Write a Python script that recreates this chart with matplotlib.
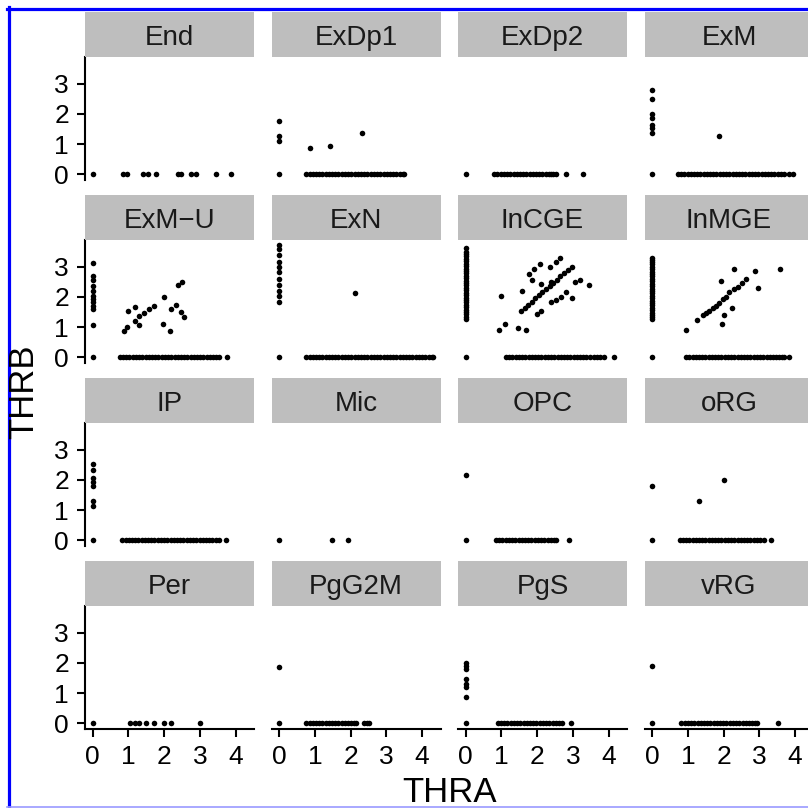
import matplotlib
matplotlib.use("Agg")
import matplotlib.pyplot as plt
from matplotlib.lines import Line2D

plt.rcParams['font.family'] = ['Liberation Sans', 'DejaVu Sans']

panels = ["End", "ExDp1", "ExDp2", "ExM",
          "ExM\u2212U", "ExN", "InCGE", "InMGE",
          "IP", "Mic", "OPC", "oRG",
          "Per", "PgG2M", "PgS", "vRG"]

# cells with THRB == 0 (THRA values)
thra_only = {
    "End": [0, 0.85, 0.96, 1.41, 1.55, 1.78, 2.38, 2.48, 2.75, 2.89, 3.44, 3.88],
    "ExDp1": [0, 0.76, 0.85, 0.94, 1.03, 1.12, 1.21, 1.3, 1.39, 1.48, 1.57, 1.66, 1.75, 1.84,
              1.93, 2.02, 2.11, 2.2, 2.29, 2.38, 2.47, 2.56, 2.65, 2.74, 2.83, 2.92, 3.01,
              3.1, 3.19, 3.28, 3.37, 3.46, 3.5],
    "ExDp2": [0, 0.8, 0.89, 0.98, 1.07, 1.16, 1.25, 1.34, 1.43, 1.52, 1.61, 1.7, 1.79, 1.88,
              1.97, 2.06, 2.15, 2.24, 2.33, 2.38, 2.45, 2.52, 2.8, 3.29],
    "ExM": [0, 0.72, 0.81, 0.9, 0.99, 1.08, 1.17, 1.26, 1.35, 1.44, 1.53, 1.62, 1.71, 1.8,
            1.89, 1.98, 2.07, 2.16, 2.25, 2.34, 2.43, 2.52, 2.61, 2.7, 2.79, 2.88, 2.97,
            3.06, 3.15, 3.24, 3.33, 3.42, 3.51, 3.6, 3.69, 3.82, 3.95],
    "ExM\u2212U": [0, 0.76, 0.85, 0.94, 1.03, 1.12, 1.21, 1.3, 1.39, 1.48, 1.57, 1.66, 1.75,
                   1.84, 1.93, 2.02, 2.11, 2.2, 2.29, 2.38, 2.47, 2.56, 2.65, 2.74, 2.83,
                   2.92, 3.01, 3.1, 3.19, 3.28, 3.37, 3.46, 3.54, 3.75],
    "ExN": [0, 0.76, 0.85, 0.94, 1.03, 1.12, 1.21, 1.3, 1.39, 1.48, 1.57, 1.66, 1.75, 1.84,
            1.93, 2.02, 2.11, 2.2, 2.29, 2.38, 2.47, 2.56, 2.65, 2.74, 2.83, 2.92, 3.01,
            3.1, 3.19, 3.28, 3.37, 3.46, 3.55, 3.64, 3.73, 3.82, 3.91, 4.0, 4.09, 4.18,
            4.27, 4.3],
    "InCGE": [0, 1.13, 1.22, 1.31, 1.4, 1.49, 1.58, 1.67, 1.76, 1.85, 1.94, 2.03, 2.12, 2.21,
              2.3, 2.39, 2.48, 2.57, 2.66, 2.75, 2.84, 2.93, 3.02, 3.11, 3.2, 3.29, 3.38,
              3.47, 3.58, 3.68, 3.77, 3.86, 4.14],
    "InMGE": [0, 0.95, 1.04, 1.13, 1.22, 1.31, 1.4, 1.49, 1.58, 1.67, 1.76, 1.85, 1.94, 2.03,
              2.12, 2.21, 2.3, 2.39, 2.48, 2.57, 2.66, 2.75, 2.84, 2.93, 3.02, 3.11, 3.2,
              3.29, 3.38, 3.47, 3.56, 3.64, 3.69, 3.82],
    "IP": [0, 0.83, 0.92, 1.01, 1.1, 1.19, 1.28, 1.37, 1.46, 1.55, 1.64, 1.73, 1.82, 1.91,
           2.0, 2.09, 2.18, 2.27, 2.36, 2.45, 2.54, 2.63, 2.72, 2.81, 2.9, 2.99, 3.08,
           3.17, 3.26, 3.35, 3.44, 3.54, 3.72],
    "Mic": [0, 1.47, 1.92],
    "OPC": [0, 0.85, 0.94, 1.03, 1.12, 1.21, 1.3, 1.39, 1.48, 1.57, 1.66, 1.75, 1.84, 1.93,
            2.02, 2.11, 2.2, 2.29, 2.38, 2.46, 2.52, 2.89],
    "oRG": [0, 0.77, 0.86, 0.95, 1.04, 1.13, 1.22, 1.31, 1.4, 1.49, 1.58, 1.67, 1.76, 1.85,
            1.94, 2.03, 2.12, 2.21, 2.3, 2.39, 2.48, 2.57, 2.66, 2.75, 2.84, 2.93, 3.02,
            3.13, 3.32],
    "Per": [0, 1.04, 1.18, 1.31, 1.5, 1.73, 1.99, 2.19, 3.01],
    "PgG2M": [0, 0.76, 0.85, 0.94, 1.03, 1.12, 1.21, 1.3, 1.39, 1.48, 1.57, 1.66, 1.75,
              1.84, 1.93, 2.02, 2.1, 2.15, 2.38, 2.45, 2.52],
    "PgS": [0, 0.9, 0.99, 1.08, 1.17, 1.26, 1.35, 1.44, 1.53, 1.62, 1.71, 1.8, 1.89, 1.98,
            2.07, 2.16, 2.25, 2.34, 2.43, 2.52, 2.61, 2.7, 2.94],
    "vRG": [0, 0.82, 0.91, 1.0, 1.09, 1.18, 1.27, 1.36, 1.45, 1.54, 1.63, 1.72, 1.81, 1.9,
            1.99, 2.08, 2.17, 2.26, 2.35, 2.44, 2.53, 2.62, 2.71, 2.8, 2.89, 2.94, 3.52],
}

# cells with THRA == 0 and THRB > 0 (THRB values)
thrb_only = {
    "ExDp1": [1.76, 1.26, 1.09],
    "ExM": [2.79, 2.51, 1.99, 1.85, 1.65, 1.54, 1.37],
    "ExM\u2212U": [3.13, 2.68, 2.55, 2.35, 2.21, 2.04, 1.93, 1.82, 1.71, 1.6, 1.06],
    "ExN": [3.73, 3.58, 3.39, 3.16, 3.0, 2.83, 2.61, 2.38, 2.21, 2.04, 1.84],
    "InCGE": [1.26, 1.34, 1.42, 1.5, 1.58, 1.66, 1.74, 1.82, 1.9, 1.98, 2.06, 2.14, 2.22,
              2.3, 2.38, 2.46, 2.54, 2.62, 2.7, 2.78, 2.86, 2.94, 3.02, 3.1, 3.18, 3.26,
              3.34, 3.42, 3.5, 3.62],
    "InMGE": [1.26, 1.33, 1.4, 1.48, 1.56, 1.64, 1.72, 1.8, 1.88, 1.96, 2.04, 2.12, 2.2,
              2.28, 2.36, 2.44, 2.52, 2.6, 2.68, 2.76, 2.84, 2.92, 3.0, 3.08, 3.16, 3.22,
              3.28],
    "IP": [2.54, 2.33, 2.05, 1.92, 1.79, 1.29, 1.15],
    "OPC": [2.16],
    "oRG": [1.79],
    "PgG2M": [1.86],
    "PgS": [2.01, 1.9, 1.79, 1.46, 1.32, 1.21, 0.86],
    "vRG": [1.91],
}

# cells with both genes expressed
both_thra = {
    "ExDp1": [0.85, 1.43, 2.32],
    "ExM": [1.86],
    "ExM\u2212U": [0.88, 0.97, 0.99, 1.18, 1.18, 1.31, 1.45, 1.59, 1.73, 1.31, 1.96, 2.15,
                   1.99, 2.19, 2.33, 2.38, 2.5, 2.47, 2.56],
    "ExN": [2.13],
    "InCGE": [0.99, 0.93, 1.11, 1.47, 1.7, 1.59,
              1.55, 1.65, 1.75, 1.85, 1.95, 2.05, 2.15, 2.25, 2.35, 2.45, 2.55, 2.65,
              2.75, 2.85, 2.98,
              1.78, 1.92, 2.07, 2.36, 2.52, 2.64, 1.87, 2.1, 2.38,
              2.01, 2.1, 2.38, 2.52, 2.66, 2.8, 2.98, 3.07, 3.21, 3.46],
    "InMGE": [0.94, 1.26, 1.42, 1.51, 1.6, 1.7, 1.79, 1.88, 1.97, 2.06, 2.16, 2.28, 2.39,
              2.5, 2.62, 1.93, 2.28, 2.88, 2.96, 3.59, 2.22, 2.0, 1.96],
    "oRG": [1.3, 2.02],
}
both_thrb = {
    "ExDp1": [0.87, 0.95, 1.37],
    "ExM": [1.28],
    "ExM\u2212U": [0.89, 1.0, 1.52, 1.67, 1.2, 1.37, 1.48, 1.6, 1.71, 1.07, 1.09, 0.89,
                   1.99, 1.6, 1.74, 2.38, 2.49, 1.5, 1.34],
    "ExN": [2.12],
    "InCGE": [2.02, 0.92, 1.09, 0.98, 0.9, 2.19,
              1.54, 1.64, 1.74, 1.85, 1.95, 2.06, 2.16, 2.26, 2.36, 2.47, 2.57, 2.68,
              2.78, 2.88, 3.0,
              2.75, 2.94, 3.09, 2.98, 3.17, 3.28, 2.55, 2.44, 2.49,
              1.43, 1.52, 1.82, 1.91, 2.01, 2.16, 1.97, 2.49, 2.57, 2.41],
    "InMGE": [0.92, 1.24, 1.39, 1.46, 1.54, 1.62, 1.71, 1.8, 1.93, 2.0, 2.16, 2.25, 2.32,
              2.45, 2.61, 2.53, 2.91, 2.86, 2.3, 2.92, 1.62, 1.4, 1.09],
    "oRG": [1.29, 2.01],
}

x_ticks = [0, 1, 2, 3, 4]
y_ticks = [0, 1, 2, 3]

W = H = 808
fig = plt.figure(figsize=(W / 100, H / 100), dpi=100)
fig.patch.set_facecolor("white")

for i, name in enumerate(panels):
    r, c = divmod(i, 4)
    left = 85 + c * 186.5
    top = 57 + r * 183
    ax = fig.add_axes([left / W, 1 - (top + 123) / H, 169 / W, 123 / H])
    st = fig.add_axes([left / W, 1 - top / H, 169 / W, 45 / H])
    st.set_facecolor("#bebebe")
    st.set_xticks([]); st.set_yticks([])
    for s in st.spines.values():
        s.set_visible(False)
    st.text(0.5, 0.26, name, ha="center", va="baseline", fontsize=20, color="#1a1a1a",
            transform=st.transAxes)

    xs = list(thra_only.get(name, [])) + [0] * len(thrb_only.get(name, [])) + both_thra.get(name, [])
    ys = [0] * len(thra_only.get(name, [])) + list(thrb_only.get(name, [])) + both_thrb.get(name, [])
    ax.scatter(xs, ys, s=16, c="black", linewidths=0, clip_on=False)

    ax.set_xlim(-0.215, 4.515)
    ax.set_ylim(-0.185, 3.885)
    for s in ["top", "right"]:
        ax.spines[s].set_visible(False)
    ax.spines["left"].set_visible(c == 0)
    ax.spines["bottom"].set_visible(r == 3)
    ax.spines["left"].set_linewidth(1.5)
    ax.spines["bottom"].set_linewidth(1.5)
    ax.tick_params(length=5.5, width=1.5, labelsize=19, pad=6, colors="black")
    if c == 0:
        ax.set_yticks(y_ticks)
    else:
        ax.set_yticks([])
    if r == 3:
        ax.set_xticks(x_ticks)
    else:
        ax.set_xticks([])

fig.text(24 / W, 1 - 392 / H, "THRB", rotation=90, ha="center", va="center", fontsize=25)
fig.text(449 / W, 1 - 802 / H, "THRA", ha="center", va="baseline", fontsize=25)

# blue frame
fig.add_artist(Line2D([8.5 / W, 8.5 / W], [0, 1 - 7 / H], color="#0000ff", lw=2.3,
                      transform=fig.transFigure))
fig.add_artist(Line2D([7 / W, 1], [1 - 8.5 / H, 1 - 8.5 / H], color="#0000ff", lw=2.3,
                      transform=fig.transFigure))
fig.add_artist(Line2D([7 / W, 1], [1 - 806.5 / H, 1 - 806.5 / H], color="#9999ff", lw=1.2,
                      transform=fig.transFigure))

fig.savefig("out.png", dpi=100)
